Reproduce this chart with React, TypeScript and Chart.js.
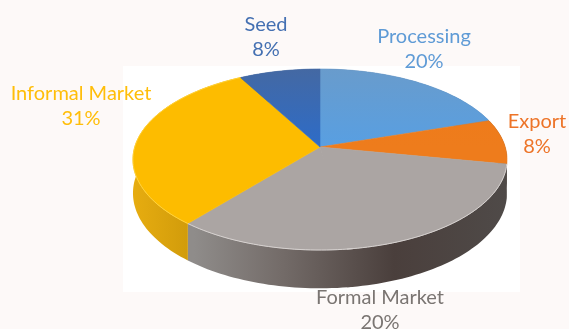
import { useEffect, useRef } from "react";
import { Chart, registerables } from "chart.js";

Chart.register(...registerables);

// Slices run clockwise from twelve o'clock. The Formal Market label states 20%;
// the 13 after it is an unlabelled remainder in the same grey, completing 100.
const categories = ["Processing", "Export", "Formal Market", "", "Informal Market", "Seed"];
const shares = [20, 8, 20, 13, 31, 8];

const greyWall: [number, string][] = [[0.16, "#8f8c8a"], [0.4, "#736b68"], [0.7, "#4a3f3c"], [1, "#4f4a48"]];
const faceColors = [
  ["#6b9bc9", "#589fe2"],
  ["#ef7a18", "#ee7c1c"],
  ["#aca5a4", "#aba5a3"],
  ["#aca5a4", "#aba5a3"],
  ["#fdbc00", "#fdbc00"],
  ["#47689e", "#2d6cc8"],
];
const sideStops: [number, string][][] = [
  [[0, "#4f6f96"], [1, "#4f6f96"]],
  [[0, "#55483f"], [1, "#55483f"]],
  greyWall,
  greyWall,
  [[0, "#e6ac10"], [0.16, "#cf9a0a"], [1, "#cf9a0a"]],
  [[0, "#3a5c8c"], [1, "#3a5c8c"]],
];
const labelColors = ["#5f9bd6", "#ed7428", "#7a7572", "", "#ffbe0a", "#4470b2"];
const labelAnchors: ([number, number] | null)[] = [
  [424, 37],
  [537, 122],
  [380, 298],
  null,
  [81, 94],
  [266, 25],
];

const WIDTH = 569;
const HEIGHT = 329;
const LINE_GAP = 25;
const STRETCH = 2.086;
const PERSPECTIVE = 0.138;
const DEPTH = 33;
const SEAM_OVERLAP = 0.03;

type Point = [number, number];

// Tilted disc: the near rim is larger than the far rim.
function project(el: any, angle: number, drop = 0): Point {
  const c = Math.cos(angle);
  const s = Math.sin(angle);
  const grow = 1 / (1 - PERSPECTIVE * s);
  return [
    el.x + STRETCH * el.outerRadius * c * grow,
    el.y + el.outerRadius * s * grow + drop * grow,
  ];
}

function rim(el: any, drop = 0, lead = 0): Point[] {
  const start = el.startAngle - lead;
  const steps = Math.max(8, Math.ceil((el.endAngle - start) * 40));
  const pts: Point[] = [];
  for (let i = 0; i <= steps; i++) {
    pts.push(project(el, start + ((el.endAngle - start) * i) / steps, drop));
  }
  return pts;
}

function trace(ctx: CanvasRenderingContext2D, pts: Point[]) {
  ctx.beginPath();
  pts.forEach(([x, y], i) => (i ? ctx.lineTo(x, y) : ctx.moveTo(x, y)));
  ctx.closePath();
}

// A slice continuing its neighbour's colour overlaps it, so no seam shows.
function leadOf(i: number) {
  return i > 0 && faceColors[i][0] === faceColors[i - 1][0] ? SEAM_OVERLAP : 0;
}

const backdrop = {
  id: "backdrop",
  beforeDraw(chart: any) {
    const { ctx } = chart;
    ctx.save();
    ctx.fillStyle = "#fdf9f8";
    ctx.fillRect(0, 0, WIDTH, HEIGHT);
    ctx.fillStyle = "#ffffff";
    ctx.fillRect(123, 66, 397, 226);
    ctx.restore();
  },
};

const tiltedPie = {
  id: "tiltedPie",
  beforeDatasetsDraw(chart: any) {
    const { ctx } = chart;
    const arcs = chart.getDatasetMeta(0).data;
    const center = arcs[0];
    const left = center.x - STRETCH * center.outerRadius;
    const right = center.x + STRETCH * center.outerRadius;
    ctx.save();

    // Wall of the disc, painted first so the top face covers its far half.
    arcs.forEach((el: any, i: number) => {
      const top = rim(el, 0, leadOf(i));
      const bottom = rim(el, DEPTH, leadOf(i)).reverse();
      const grad = ctx.createLinearGradient(left, 0, right, 0);
      sideStops[i].forEach(([at, color]) => grad.addColorStop(at, color));
      trace(ctx, [...top, ...bottom]);
      ctx.fillStyle = grad;
      ctx.fill();
    });

    // Top face.
    arcs.forEach((el: any, i: number) => {
      const grad = ctx.createLinearGradient(0, center.y - center.outerRadius, 0, center.y);
      grad.addColorStop(0, faceColors[i][0]);
      grad.addColorStop(1, faceColors[i][1]);
      trace(ctx, [[el.x, el.y], ...rim(el, 0, leadOf(i))]);
      ctx.fillStyle = grad;
      ctx.strokeStyle = grad;
      ctx.lineWidth = 0.6;
      ctx.fill();
      ctx.stroke();
    });

    // Light catching the near edge of the grey and yellow slices.
    arcs.forEach((el: any, i: number) => {
      if (i < 2 || i > 4) return;
      ctx.beginPath();
      rim(el, 0, leadOf(i)).forEach(([x, y], n: number) => (n ? ctx.lineTo(x, y) : ctx.moveTo(x, y)));
      ctx.strokeStyle = i === 4 ? "#ffd23c" : "#d6d1cf";
      ctx.lineWidth = 1;
      ctx.stroke();
    });

    ctx.restore();
    return false;
  },
};

const sliceLabels = {
  id: "sliceLabels",
  afterDraw(chart: any) {
    const { ctx } = chart;
    ctx.save();
    ctx.font = "20px Lato";
    ctx.textAlign = "center";
    ctx.textBaseline = "middle";
    categories.forEach((name, i) => {
      const anchor = labelAnchors[i];
      if (!anchor) return;
      ctx.fillStyle = labelColors[i];
      ctx.fillText(name, anchor[0], anchor[1]);
      ctx.fillText(`${shares[i]}%`, anchor[0], anchor[1] + LINE_GAP);
    });
    ctx.restore();
  },
};

export default function App() {
  const canvasRef = useRef<HTMLCanvasElement>(null);

  useEffect(() => {
    const chart = new Chart(canvasRef.current!, {
      type: "pie",
      data: {
        labels: categories,
        datasets: [{ data: shares, backgroundColor: faceColors.map((c) => c[0]), borderWidth: 0 }],
      },
      options: {
        responsive: false,
        animation: false,
        layout: { padding: { left: 120, right: 49, top: 58.2, bottom: 93.2 } },
        plugins: { legend: { display: false }, tooltip: { enabled: false } },
      },
      plugins: [backdrop, tiltedPie, sliceLabels],
    });
    return () => chart.destroy();
  }, []);

  return (
    <div style={{ position: "fixed", inset: 0, background: "#fdf9f8" }}>
      <canvas ref={canvasRef} width={WIDTH} height={HEIGHT} style={{ display: "block" }} />
    </div>
  );
}
